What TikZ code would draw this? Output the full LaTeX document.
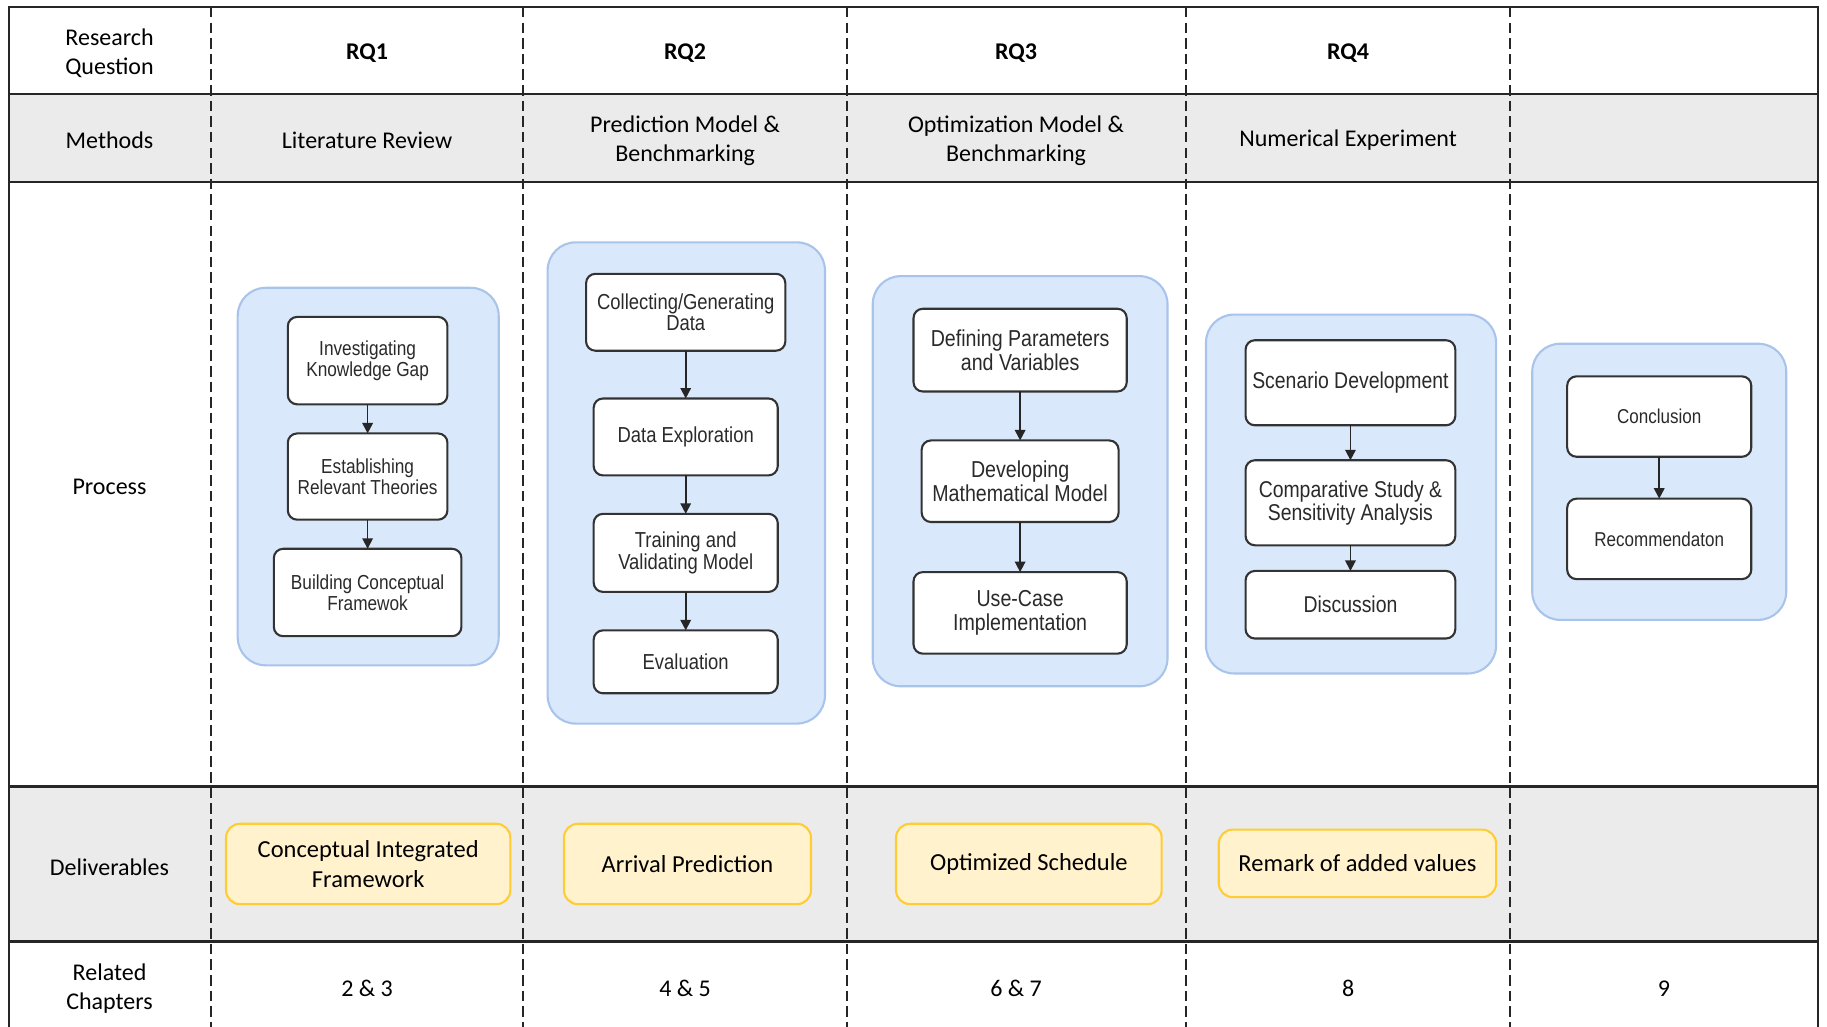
\documentclass[tikz,border=0pt]{standalone}
\usepackage{fontspec}
\setmainfont{Carlito}
\newfontfamily\boxfont[FakeStretch=0.85]{Liberation Sans}
\usetikzlibrary{arrows.meta}

\definecolor{rowgray}{HTML}{EBEBEB}
\definecolor{grpfill}{HTML}{DAE8FC}
\definecolor{grpline}{HTML}{A9C4EB}
\definecolor{delfill}{HTML}{FFF2CC}
\definecolor{delline}{HTML}{FFCC33}
\definecolor{boxtext}{HTML}{2A2A2A}

\tikzset{
  gridline/.style={line width=0.9pt, black!85},
  lane/.style={line width=0.9pt, black!85, dash pattern=on 4.5pt off 2.2pt},
  sz/.style 2 args={minimum width=#1*0.5pt, minimum height=#2*0.5pt},
  fs/.style 2 args={font=\boxfont\fontsize{#1}{#2}\selectfont},
  group/.style={draw=grpline, fill=grpfill, line width=0.9pt, rounded corners=12pt,
    inner sep=0pt, outer sep=0pt},
  stepbox/.style={draw=black!80, fill=white, line width=0.9pt, rounded corners=4pt,
    inner sep=0pt, outer sep=0pt, align=center, text=boxtext},
  deliv/.style={draw=delline, fill=delfill, line width=0.9pt, rounded corners=6pt,
    inner sep=0pt, align=center, font=\fontsize{10.5}{13}\selectfont},
  cell/.style={align=center, yshift=-0.8pt, font=\fontsize{10.3}{12.5}\selectfont},
  head/.style={align=center, yshift=-0.8pt, font=\fontsize{10.3}{12.5}\selectfont\bfseries},
  flow/.style={-{Triangle[length=4.5pt,width=4.5pt]}, line width=0.75pt, black!85},
}

\begin{document}
\begin{tikzpicture}[x=0.5pt,y=-0.5pt]
\useasboundingbox (0,0) rectangle (1568,881);

% shaded rows
\fill[rowgray] (8,81) rectangle (1560,156);
\fill[rowgray] (8,675) rectangle (1560,808);

% table frame and row separators
\draw[gridline] (8,881) -- (8,6) -- (1560,6) -- (1560,881);
\foreach \y in {81,156,675,808}
  \draw[gridline] (8,\y) -- (1560,\y);

% column separators
\foreach \x in {181,449,727,1018,1296}
  \draw[lane] (\x,6) -- (\x,881);

% header row
\node[cell] (hrq) at (94,44) {Research\\Question};
\node[head] (rq1) at (315,44) {RQ1};
\node[head] (rq2) at (588,44) {RQ2};
\node[head] (rq3) at (872,44) {RQ3};
\node[head] (rq4) at (1157,44) {RQ4};

% methods row
\node[cell] (hmet) at (94,119) {Methods};
\node[cell] (m1) at (315,119) {Literature Review};
\node[cell] (m2) at (588,119) {Prediction Model \&\\Benchmarking};
\node[cell] (m3) at (872,119) {Optimization Model \&\\Benchmarking};
\node[cell] (m4) at (1157,119) {Numerical Experiment};

% process row
\node[cell] (hproc) at (94,416) {Process};

% RQ1 process
\node[group, sz={224}{324}] (g1) at (316,409) {};
\node[stepbox, sz={137}{75}, fs={8.7}{9}] (a1) at (315.5,309.5) {Investigating\\Knowledge Gap};
\node[stepbox, sz={137}{74}, fs={8.7}{9}] (a2) at (315.5,409) {Establishing\\Relevant Theories};
\node[stepbox, sz={161}{75}, fs={8.7}{9}] (a3) at (315.5,508.5) {Building Conceptual\\Framewok};
\draw[flow] (a1) -- (a2);
\draw[flow] (a2) -- (a3);

% RQ2 process
\node[group, sz={238}{413}] (g2) at (589,414.5) {};
\node[stepbox, sz={171}{66}, fs={9.3}{9.2}] (b1) at (588.5,268) {Collecting/Generating\\Data};
\node[stepbox, sz={158}{66}, fs={9.3}{9.2}] (b2) at (588.5,375) {Data Exploration};
\node[stepbox, sz={158}{67}, fs={9.3}{9.2}] (b3) at (588.5,474.5) {Training and\\Validating Model};
\node[stepbox, sz={158}{54}, fs={9.3}{9.2}] (b4) at (588.5,568) {Evaluation};
\draw[flow] (b1) -- (b2);
\draw[flow] (b2) -- (b3);
\draw[flow] (b3) -- (b4);

% RQ3 process
\node[group, sz={253}{352}] (g3) at (875.5,413) {};
\node[stepbox, sz={183}{71}, fs={9.9}{10}] (c1) at (875.5,300.5) {Defining Parameters\\and Variables};
\node[stepbox, sz={169}{70}, fs={9.9}{10}] (c2) at (875.5,413) {Developing\\Mathematical Model};
\node[stepbox, sz={183}{70}, fs={9.9}{10}] (c3) at (875.5,526) {Use-Case\\Implementation};
\draw[flow] (c1) -- (c2);
\draw[flow] (c2) -- (c3);

% RQ4 process
\node[group, sz={249}{308}] (g4) at (1159.5,424) {};
\node[stepbox, sz={180}{73}, fs={9.8}{10}] (d1) at (1159,328.5) {Scenario Development};
\node[stepbox, sz={180}{73}, fs={9.8}{10}] (d2) at (1159,431.5) {Comparative Study \&\\Sensitivity Analysis};
\node[stepbox, sz={180}{58}, fs={9.8}{10}] (d3) at (1159,519) {Discussion};
\draw[flow] (d1) -- (d2);
\draw[flow] (d2) -- (d3);

% closing process
\node[group, sz={218}{237}] (g5) at (1424,413.5) {};
\node[stepbox, sz={158}{69}, fs={8.6}{9}] (e1) at (1424,357.5) {Conclusion};
\node[stepbox, sz={158}{69}, fs={8.6}{9}] (e2) at (1424,462.5) {Recommendaton};
\draw[flow] (e1) -- (e2);

% deliverables row
\node[cell] (hdel) at (94,743) {Deliverables};
\node[deliv, sz={244}{69}] (f1) at (316,741.5) {Conceptual Integrated\\Framework};
\node[deliv, sz={212}{69}] (f2) at (590,741.5) {Arrival Prediction};
\node[deliv, sz={228}{69}] (f3) at (883,741.5) {Optimized Schedule};
\node[deliv, sz={238}{58}] (f4) at (1165,741) {Remark of added values};

% related chapters row
\node[cell] (hch) at (94,847) {Related\\Chapters};
\node[cell] (ch1) at (315,847) {2 \& 3};
\node[cell] (ch2) at (588,847) {4 \& 5};
\node[cell] (ch3) at (872,847) {6 \& 7};
\node[cell] (ch4) at (1157,847) {8};
\node[cell] (ch5) at (1428,847) {9};
\end{tikzpicture}
\end{document}
